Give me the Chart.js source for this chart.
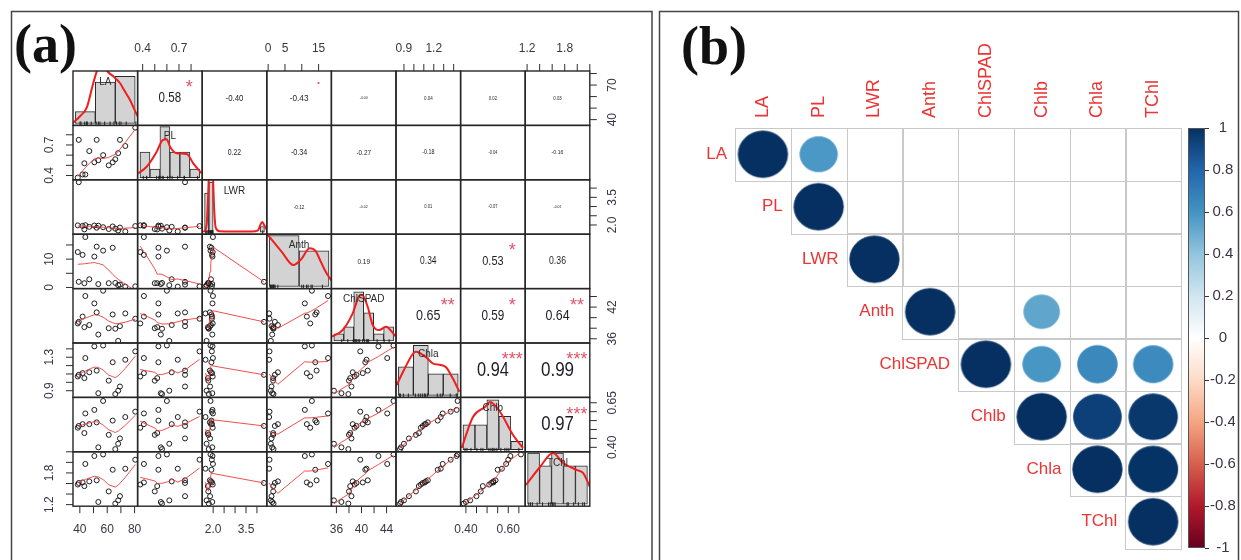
<!DOCTYPE html>
<html>
<head>
<meta charset="utf-8">
<script src="https://cdn.jsdelivr.net/npm/chart.js@4.4.1/dist/chart.umd.min.js"></script>
<style>
  html, body { margin: 0; padding: 0; background: #fff; }
  #wrap { position: relative; width: 1241px; height: 560px; overflow: hidden; background: #fff; }
  #ca { position: absolute; left: 0; top: 0; width: 656px; height: 560px; }
  #cb { position: absolute; left: 656px; top: 0; width: 585px; height: 560px; }
</style>
</head>
<body>
<div id="wrap">
  <canvas id="ca" width="656" height="560"></canvas>
  <canvas id="cb" width="585" height="560"></canvas>
</div>
<script>
// ---------------- measured traits (17 accessions) ----------------
const VARS = ['LA', 'PL', 'LWR', 'Anth', 'ChlSPAD', 'Chla', 'Chlb', 'TChl'];

const LA      = [38.5, 39.2, 42.0, 43.3, 44.0, 46.9, 50.6, 52.3, 53.5, 57.0, 61.1, 64.0, 65.9, 68.0, 69.3, 73.2, 80.5];
const PL      = [0.38, 0.75, 0.41, 0.52, 0.41, 0.64, 0.53, 0.75, 0.55, 0.60, 0.50, 0.53, 0.56, 0.62, 0.75, 0.69, 0.87];
const LWR     = [1.98, 4.32, 1.95, 1.76, 1.99, 1.90, 1.97, 1.85, 1.96, 1.88, 1.78, 1.92, 1.80, 1.70, 1.86, 1.65, 1.94];
const Anth    = [12.5, 2.0, 11.5, 1.5, 17.8, 2.9, 10.9, 14.4, 1.2, 13.0, 1.5, 14.0, 1.6, 0.8, 1.0, 0.3, 0.4];
const ChlSPAD = [38.9, 39.2, 40.2, 38.2, 44.1, 38.6, 42.7, 41.0, 36.8, 45.1, 38.0, 40.6, 37.9, 35.6, 38.4, 40.8, 39.8];
const Chla    = [1.07, 1.09, 1.11, 1.05, 1.29, 1.12, 1.43, 1.14, 0.87, 1.44, 1.02, 1.24, 0.86, 0.90, 0.95, 1.27, 1.37];
const Chlb    = [0.51, 0.52, 0.53, 0.48, 0.59, 0.53, 0.61, 0.54, 0.40, 0.66, 0.47, 0.55, 0.39, 0.42, 0.45, 0.57, 0.60];
const TChl    = [1.58, 1.61, 1.62, 1.55, 1.97, 1.64, 2.12, 1.66, 1.25, 2.15, 1.45, 1.86, 1.22, 1.28, 1.36, 1.88, 2.05];

// axis limits of each trait's panel
const AXIS_LO = [35.0, 0.358, 1.50, -0.4, 35.2, 0.82, 0.375, 1.17];
const AXIS_HI = [82.2, 0.892, 4.45, 18.8, 45.5, 1.47, 0.680, 2.20];

// axis ticks of each trait
const TICKS_LA      = [40, 50, 60, 70, 80];
const TICKS_PL      = [0.4, 0.5, 0.6, 0.7, 0.8];
const TICKS_LWR     = [2.0, 2.5, 3.0, 3.5, 4.0];
const TICKS_Anth    = [0, 5, 10, 15];
const TICKS_ChlSPAD = [36, 38, 40, 42, 44];
const TICKS_Chla    = [0.9, 1.0, 1.1, 1.2, 1.3, 1.4];
const TICKS_Chlb    = [0.40, 0.45, 0.50, 0.55, 0.60, 0.65];
const TICKS_TChl    = [1.2, 1.4, 1.6, 1.8, 2.0, 2.2];

// labelled ticks on each side of the matrix: [trait index, labels]
const AXIS_TOP    = [[1, ['0.4', '0.7']], [3, ['0', '5', '15']], [5, ['0.9', '1.2']], [7, ['1.2', '1.8']]];
const AXIS_BOTTOM = [[0, ['40', '60', '80']], [2, ['2.0', '3.5']], [4, ['36', '40', '44']], [6, ['0.40', '0.60']]];
const AXIS_LEFT   = [[1, ['0.4', '0.7']], [3, ['0', '10']], [5, ['0.9', '1.3']], [7, ['1.2', '1.8']]];
const AXIS_RIGHT  = [[0, ['40', '70']], [2, ['2.0', '3.5']], [4, ['36', '42']], [6, ['0.40', '0.65']]];

// histogram breaks and counts on the diagonal
const HIST_BREAKS = [
  [35, 50, 65, 80],
  [0.35, 0.44, 0.53, 0.62, 0.71, 0.80, 0.89],
  [1.6, 1.8, 2.0, 2.2, 2.4, 2.6, 2.8, 3.0, 3.2, 3.4, 3.6, 3.8, 4.0, 4.2, 4.4],
  [0, 10, 20],
  [34, 36, 38, 40, 42, 44, 46],
  [0.85, 1.0, 1.15, 1.3, 1.45],
  [0.38, 0.44, 0.50, 0.56, 0.62, 0.68],
  [1.2, 1.4, 1.6, 1.8, 2.0, 2.2]
];
const HIST_COUNTS = [
  [2, 7, 8],
  [3, 1, 6, 3, 3, 1],
  [7, 9, 0, 0, 0, 0, 0, 0, 0, 0, 0, 0, 0, 1],
  [10, 7],
  [1, 2, 7, 4, 1, 2],
  [4, 7, 3, 3],
  [3, 3, 6, 4, 1],
  [4, 3, 4, 3, 3]
];
// upper limit of each histogram's count axis
const HIST_TOP = [8.9, 6.15, 9.4, 10.26, 7.47, 7.32, 6.28, 4.1];

// kernel density curves (in histogram count units)
const DENS_X = [
  [33.2, 38.5, 43.7, 47.5, 51.2, 54.2, 56.5, 59.5, 64.0, 68.5, 72.3, 76.1, 80.6, 82.1],
  [0.335, 0.41, 0.501, 0.555, 0.591, 0.621, 0.681, 0.772, 0.831, 0.907],
  [1.49, 1.6, 1.7, 1.76, 1.82, 1.9, 1.98, 2.05, 2.12, 2.3, 3.0, 3.8, 4.1, 4.2, 4.3, 4.4, 4.51],
  [-0.83, 4.2, 8.1, 10.9, 13.5, 15.5, 17.0, 18.8, 20.3, 20.8],
  [33.64, 35.79, 37.79, 39.12, 39.66, 40.8, 41.8, 43.13, 44.47, 46.34],
  [0.833, 0.916, 0.999, 1.027, 1.127, 1.194, 1.277, 1.328, 1.395, 1.461],
  [0.3735, 0.430, 0.490, 0.516, 0.566, 0.631, 0.681],
  [1.173, 1.407, 1.625, 1.792, 2.026, 2.126, 2.243]
];
const DENS_Y = [
  [0.05, 1.2, 2.77, 6.0, 8.9, 9.8, 9.7, 8.73, 7.9, 6.86, 5.4, 3.97, 1.75, 1.1],
  [0.52, 1.29, 3.06, 4.43, 4.52, 3.65, 2.87, 2.79, 1.69, 0.52],
  [0.1, 0.2, 1.5, 6, 12, 14, 11, 4, 0.8, 0.15, 0.1, 0.1, 0.3, 1.2, 1.8, 1.2, 0.4],
  [10.4, 6.8, 4.2, 5.5, 7.5, 7.0, 5.2, 3.0, 1.6, 1.2],
  [0.6, 1.56, 3.94, 6.41, 6.55, 4.88, 2.27, 1.56, 2.03, 0.7],
  [1.44, 3.82, 5.88, 6.1, 5.32, 4.48, 4.24, 3.92, 2.38, 0.5],
  [0.21, 3.93, 5.13, 5.73, 4.53, 1.77, 0.21],
  [1.50, 2.91, 4.01, 3.22, 2.67, 2.44, 1.34]
];

// Pearson correlations (rows/columns in VARS order)
const R_LA      = [1.00, 0.58, -0.40, -0.43, -0.004, 0.04, 0.02, 0.03];
const R_PL      = [0.58, 1.00, 0.22, -0.34, -0.27, -0.18, -0.04, -0.16];
const R_LWR     = [-0.40, 0.22, 1.00, -0.12, -0.02, 0.01, -0.07, -0.01];
const R_Anth    = [-0.43, -0.34, -0.12, 1.00, 0.19, 0.34, 0.53, 0.36];
const R_ChlSPAD = [-0.004, -0.27, -0.02, 0.19, 1.00, 0.65, 0.59, 0.64];
const R_Chla    = [0.04, -0.18, 0.01, 0.34, 0.65, 1.00, 0.94, 0.99];
const R_Chlb    = [0.02, -0.04, -0.07, 0.53, 0.59, 0.94, 1.00, 0.97];
const R_TChl    = [0.03, -0.16, -0.01, 0.36, 0.64, 0.99, 0.97, 1.00];

// significance codes
const S_LA      = ['', '*', '', '.', '', '', '', ''];
const S_PL      = ['*', '', '', '', '', '', '', ''];
const S_LWR     = ['', '', '', '', '', '', '', ''];
const S_Anth    = ['', '', '', '', '', '', '*', ''];
const S_ChlSPAD = ['', '', '', '', '', '**', '*', '**'];
const S_Chla    = ['', '', '', '', '**', '', '***', '***'];
const S_Chlb    = ['', '', '', '*', '*', '***', '', '***'];
const S_TChl    = ['', '', '', '', '**', '***', '***', ''];

// variable order of the correlogram
const ORDER_B = [0, 1, 2, 3, 4, 6, 5, 7];

// diverging palette of the correlogram
const RAMP = ['#67001F', '#B2182B', '#D6604D', '#F4A582', '#FDDBC7', '#FFFFFF',
              '#D1E5F0', '#92C5DE', '#4393C3', '#2166AC', '#053061'];

// ---------------------------------------------------------------
const SAMPLES = [LA, PL, LWR, Anth, ChlSPAD, Chla, Chlb, TChl];
const TICKS = [TICKS_LA, TICKS_PL, TICKS_LWR, TICKS_Anth, TICKS_ChlSPAD, TICKS_Chla, TICKS_Chlb, TICKS_TChl];
const CORR = [R_LA, R_PL, R_LWR, R_Anth, R_ChlSPAD, R_Chla, R_Chlb, R_TChl];
const SIG = [S_LA, S_PL, S_LWR, S_Anth, S_ChlSPAD, S_Chla, S_Chlb, S_TChl];
const N = VARS.length;
const SANS = '"Liberation Sans", Arial, Helvetica, sans-serif';
const SERIF = '"Liberation Serif", "Times New Roman", serif';

function hexToRgb(h) {
  const v = parseInt(h.slice(1), 16);
  return [(v >> 16) & 255, (v >> 8) & 255, v & 255];
}
function rampColor(v) {
  const t = Math.max(0, Math.min(10, (v + 1) / 2 * 10));
  const i = Math.min(9, Math.floor(t)), f = t - i;
  const a = hexToRgb(RAMP[i]), b = hexToRgb(RAMP[i + 1]);
  const c = a.map((x, k) => Math.round(x + (b[k] - x) * f));
  return `rgb(${c[0]},${c[1]},${c[2]})`;
}

// locally weighted scatterplot smoother (Cleveland's lowess)
function lowess(xIn, yIn, f, iter) {
  const n = xIn.length;
  const order = xIn.map((_, i) => i).sort((a, b) => xIn[a] - xIn[b]);
  const x = order.map(i => xIn[i]), y = order.map(i => yIn[i]);
  const ns = Math.max(2, Math.min(n, Math.floor(f * n + 1e-7)));
  const fit = new Array(n).fill(0), rw = new Array(n).fill(1), res = new Array(n).fill(0);
  const range = x[n - 1] - x[0];
  for (let it = 0; it <= iter; it++) {
    let nleft = 0, nright = ns - 1;
    for (let i = 0; i < n; i++) {
      while (nright < n - 1) {
        const d1 = x[i] - x[nleft], d2 = x[nright + 1] - x[i];
        if (d1 <= d2) break;
        nleft++; nright++;
      }
      const h = Math.max(x[i] - x[nleft], x[nright] - x[i]);
      const w = new Array(n).fill(0);
      let sw = 0;
      for (let j = 0; j < n; j++) {
        const r = Math.abs(x[j] - x[i]);
        if (r <= 0.999 * h) {
          let wj = (r <= 0.001 * h) ? 1 : Math.pow(1 - Math.pow(r / h, 3), 3);
          wj *= rw[j];
          w[j] = wj; sw += wj;
        }
      }
      if (sw <= 0) { fit[i] = y[i]; continue; }
      let a = 0;
      for (let j = 0; j < n; j++) { w[j] /= sw; a += w[j] * x[j]; }
      let b = x[i] - a, c = 0;
      for (let j = 0; j < n; j++) c += w[j] * (x[j] - a) * (x[j] - a);
      if (Math.sqrt(c) > 0.001 * range) {
        b /= c;
        for (let j = 0; j < n; j++) w[j] *= (b * (x[j] - a) + 1);
      }
      let s = 0;
      for (let j = 0; j < n; j++) s += w[j] * y[j];
      fit[i] = s;
    }
    if (it === iter) break;
    for (let i = 0; i < n; i++) res[i] = y[i] - fit[i];
    const sorted = res.map(Math.abs).sort((p, q) => p - q);
    const m = n % 2 ? sorted[(n - 1) / 2] : (sorted[n / 2 - 1] + sorted[n / 2]) / 2;
    const cmad = 6 * m;
    if (cmad < 1e-9) break;
    for (let i = 0; i < n; i++) {
      const r = Math.abs(res[i]);
      rw[i] = r <= 0.001 * cmad ? 1 : (r > 0.999 * cmad ? 0 : Math.pow(1 - (r / cmad) * (r / cmad), 2));
    }
  }
  return x.map((xv, i) => ({ x: xv, y: fit[i] }));
}

// ---------------- panel (a): scatterplot matrix ----------------
// every trait gets an x scale for its column and a y scale for its row;
// the scale range is widened so that the trait's own range fills one cell
function cellScale(axis, lo, hi, k, isRow) {
  const span = hi - lo;
  const min = isRow ? lo - (N - 1 - k) * span : lo - k * span;
  const max = isRow ? hi + k * span : hi + (N - 1 - k) * span;
  return { type: 'linear', axis, display: false, bounds: 'data', offset: false, min, max,
           grid: { offset: false }, ticks: { includeBounds: false, maxTicksLimit: 3 } };
}

const scalesA = {};
for (let k = 0; k < N; k++) {
  scalesA['x' + k] = cellScale('x', AXIS_LO[k], AXIS_HI[k], k, false);
  scalesA['y' + k] = cellScale('y', AXIS_LO[k], AXIS_HI[k], k, true);
  const br = HIST_BREAKS[k], b0 = br[0], bN = br[br.length - 1], ext = 0.04 * (bN - b0);
  scalesA['hx' + k] = cellScale('x', b0 - ext, bN + ext, k, false);
  scalesA['hy' + k] = cellScale('y', -0.04 * HIST_TOP[k], HIST_TOP[k], k, true);
}

const datasetsA = [];
for (let i = 0; i < N; i++) {
  for (let j = 0; j < N; j++) {
    if (i > j) {
      datasetsA.push({
        type: 'scatter', cell: [i, j], xAxisID: 'x' + j, yAxisID: 'y' + i,
        data: SAMPLES[j].map((v, s) => ({ x: v, y: SAMPLES[i][s] })),
        pointStyle: 'circle', pointRadius: 2.5, pointBorderWidth: 1,
        pointBackgroundColor: 'rgba(0,0,0,0)', pointBorderColor: '#1c1c1c',
        borderColor: '#1c1c1c', backgroundColor: 'rgba(0,0,0,0)',
        showLine: false, order: 2, clip: false
      });
      datasetsA.push({
        type: 'line', cell: [i, j], xAxisID: 'x' + j, yAxisID: 'y' + i,
        data: lowess(SAMPLES[j], SAMPLES[i], 2 / 3, 3),
        borderColor: 'rgba(236,60,60,0.9)', borderWidth: 1, pointRadius: 0,
        tension: 0, fill: false, order: 1, clip: false
      });
    } else if (i === j) {
      const br = HIST_BREAKS[i], T = HIST_TOP[i];
      datasetsA.push({
        type: 'bar', cell: [i, i], xAxisID: 'hx' + i, yAxisID: 'hy' + i,
        data: HIST_COUNTS[i].map((c, b) => ({ x: (br[b] + br[b + 1]) / 2, y: c })),
        backgroundColor: '#d3d3d3', borderColor: '#2a2a2a', borderWidth: 1,
        borderSkipped: false, categoryPercentage: 1, barPercentage: 1, grouped: false,
        order: 4, clip: false
      });
      datasetsA.push({
        type: 'scatter', cell: [i, i], xAxisID: 'hx' + i, yAxisID: 'hy' + i,
        data: SAMPLES[i].map(v => ({ x: v, y: -0.04 * T + 0.035 * 1.04 * T })),
        pointStyle: 'line', rotation: 90, pointRadius: 2, pointBorderWidth: 1,
        pointBorderColor: '#222', borderColor: '#222', showLine: false, order: 3, clip: false
      });
      datasetsA.push({
        type: 'line', cell: [i, i], xAxisID: 'hx' + i, yAxisID: 'hy' + i,
        data: DENS_X[i].map((x, p) => ({ x, y: DENS_Y[i][p] })),
        borderColor: '#f01e1e', borderWidth: 2, pointRadius: 0,
        cubicInterpolationMode: 'monotone', fill: false, order: 1, clip: false
      });
    }
  }
}

function cellRect(chart, r, c) {
  const xs = chart.scales['x' + c], ys = chart.scales['y' + r];
  return {
    l: xs.getPixelForValue(AXIS_LO[c]), r: xs.getPixelForValue(AXIS_HI[c]),
    t: ys.getPixelForValue(AXIS_HI[r]), b: ys.getPixelForValue(AXIS_LO[r])
  };
}

const measureCtx = document.createElement('canvas').getContext('2d');
function emWidth(txt) {
  measureCtx.font = '100px ' + SANS;
  return measureCtx.measureText(txt).width / 100;
}

const pairsDecor = {
  id: 'pairsDecor',
  beforeDatasetDraw(chart, args) {
    const ds = chart.data.datasets[args.index];
    if (!ds.cell) return;
    const R = cellRect(chart, ds.cell[0], ds.cell[1]);
    const ctx = chart.ctx;
    ctx.save();
    ctx.beginPath();
    ctx.rect(R.l, R.t, R.r - R.l, R.b - R.t);
    ctx.clip();
  },
  afterDatasetDraw(chart, args) {
    const ds = chart.data.datasets[args.index];
    if (!ds.cell) return;
    chart.ctx.restore();
  },
  afterDatasetsDraw(chart) {
    const ctx = chart.ctx;
    ctx.save();

    // correlation coefficients and significance stars
    for (let i = 0; i < N; i++) {
      for (let j = i + 1; j < N; j++) {
        const R = cellRect(chart, i, j);
        const r = CORR[i][j];
        const txt = r.toFixed(2);
        const size = 20.5 * (Math.abs(r) + 0.3) / 1.29 * (1.946 / emWidth(txt));
        ctx.save();
        ctx.translate((R.l + R.r) / 2, (R.t + R.b) / 2);
        ctx.scale(0.83, 1);
        ctx.font = size.toFixed(2) + 'px ' + SANS;
        ctx.fillStyle = '#1e1e28';
        ctx.textAlign = 'center';
        ctx.textBaseline = 'middle';
        ctx.fillText(txt, 0, 0);
        ctx.restore();
        const sig = SIG[i][j];
        if (sig) {
          const sx = R.l + 0.8 * (R.r - R.l), sy = R.t + 0.2 * (R.b - R.t) + 1;
          ctx.font = '18px ' + SANS;
          ctx.fillStyle = '#df536b';
          ctx.textAlign = 'center';
          ctx.textBaseline = 'alphabetic';
          ctx.fillText(sig, sx, sig === '.' ? sy + 1 : sy + 0.57 * 18);
        }
      }
    }

    // trait names on the diagonal
    ctx.font = '10px ' + SANS;
    ctx.fillStyle = '#2a2a2a';
    ctx.textAlign = 'center';
    ctx.textBaseline = 'middle';
    for (let k = 0; k < N; k++) {
      const R = cellRect(chart, k, k);
      ctx.fillText(VARS[k], (R.l + R.r) / 2, R.t + 11);
    }

    // panel boxes
    ctx.strokeStyle = '#262626';
    ctx.lineWidth = 1.4;
    for (let i = 0; i < N; i++) {
      for (let j = 0; j < N; j++) {
        const R = cellRect(chart, i, j);
        ctx.strokeRect(R.l, R.t, R.r - R.l, R.b - R.t);
      }
    }

    // outer axes
    const G = { l: cellRect(chart, 0, 0).l, t: cellRect(chart, 0, 0).t,
                r: cellRect(chart, N - 1, N - 1).r, b: cellRect(chart, N - 1, N - 1).b };
    ctx.strokeStyle = '#2e2e2e';
    ctx.lineWidth = 1;
    ctx.fillStyle = '#3b3446';
    ctx.font = '12px ' + SANS;
    ctx.textAlign = 'center';
    ctx.textBaseline = 'middle';
    const TL = 7, OFF = 22;
    AXIS_TOP.forEach(([k, labels]) => {
      const xs = chart.scales['x' + k];
      TICKS[k].forEach(t => { const p = xs.getPixelForValue(t); ctx.beginPath(); ctx.moveTo(p, G.t); ctx.lineTo(p, G.t - TL); ctx.stroke(); });
      labels.forEach(s => ctx.fillText(s, xs.getPixelForValue(parseFloat(s)), G.t - OFF));
    });
    AXIS_BOTTOM.forEach(([k, labels]) => {
      const xs = chart.scales['x' + k];
      TICKS[k].forEach(t => { const p = xs.getPixelForValue(t); ctx.beginPath(); ctx.moveTo(p, G.b); ctx.lineTo(p, G.b + TL); ctx.stroke(); });
      labels.forEach(s => ctx.fillText(s, xs.getPixelForValue(parseFloat(s)), G.b + OFF + 1));
    });
    const vertLabels = (list, x0, dir) => {
      list.forEach(([k, labels]) => {
        const ys = chart.scales['y' + k];
        TICKS[k].forEach(t => { const p = ys.getPixelForValue(t); ctx.beginPath(); ctx.moveTo(x0, p); ctx.lineTo(x0 + dir * TL, p); ctx.stroke(); });
        labels.forEach(s => {
          ctx.save();
          ctx.translate(x0 + dir * (OFF + 1), ys.getPixelForValue(parseFloat(s)));
          ctx.rotate(-Math.PI / 2);
          ctx.fillText(s, 0, 0);
          ctx.restore();
        });
      });
    };
    vertLabels(AXIS_LEFT, G.l, -1);
    vertLabels(AXIS_RIGHT, G.r, 1);

    // figure frame and tag
    ctx.strokeStyle = '#444';
    ctx.lineWidth = 1.5;
    ctx.strokeRect(11.5, 11.5, 640.5, 620);
    ctx.font = 'bold 54px ' + SERIF;
    ctx.fillStyle = '#111';
    ctx.textAlign = 'left';
    ctx.textBaseline = 'alphabetic';
    ctx.fillText('(a)', 14, 62);
    ctx.restore();
  }
};

new Chart(document.getElementById('ca'), {
  type: 'scatter',
  data: { datasets: datasetsA },
  options: {
    responsive: false, animation: false, devicePixelRatio: 1, events: [],
    layout: { padding: { left: 73, top: 71, right: 66.2, bottom: 53.8 } },
    plugins: { legend: { display: false }, tooltip: { enabled: false } },
    scales: scalesA
  },
  plugins: [pairsDecor]
});

// ---------------- panel (b): correlogram ----------------
const circles = [];
for (let bi = 0; bi < N; bi++) {
  for (let bj = bi; bj < N; bj++) {
    const a = ORDER_B[bi], b = ORDER_B[bj];
    const show = bi === bj || SIG[a][b].indexOf('*') >= 0;
    if (show) circles.push({ x: bj, y: bi, v: bi === bj ? 1 : CORR[a][b] });
  }
}

const ellipseCache = {};
function cellSize(chart) {
  const xs = chart.scales.x, ys = chart.scales.y;
  return { w: Math.abs(xs.getPixelForValue(1) - xs.getPixelForValue(0)),
           h: Math.abs(ys.getPixelForValue(1) - ys.getPixelForValue(0)) };
}
function ellipseStyle(c) {
  if (!c.raw) return 'circle';
  const cs = cellSize(c.chart);
  const s = Math.sqrt(Math.abs(c.raw.v));
  const rx = 0.45 * cs.w * s, ry = 0.45 * cs.h * s;
  const key = c.raw.v + '|' + rx.toFixed(2) + '|' + ry.toFixed(2);
  if (!ellipseCache[key]) {
    const cv = document.createElement('canvas');
    cv.width = Math.ceil(2 * rx) + 2;
    cv.height = Math.ceil(2 * ry) + 2;
    const g = cv.getContext('2d');
    g.fillStyle = rampColor(c.raw.v);
    g.strokeStyle = rampColor(c.raw.v);
    g.lineWidth = 0.8;
    g.beginPath();
    g.ellipse(cv.width / 2, cv.height / 2, rx - 0.4, ry - 0.4, 0, 0, 2 * Math.PI);
    g.fill();
    g.stroke();
    ellipseCache[key] = cv;
  }
  return ellipseCache[key];
}

const corrDecor = {
  id: 'corrDecor',
  beforeDatasetsDraw(chart) {
    const ctx = chart.ctx, xs = chart.scales.x, ys = chart.scales.y;
    ctx.save();
    ctx.strokeStyle = '#c9c9c9';
    ctx.lineWidth = 1;
    for (let bi = 0; bi < N; bi++) {
      for (let bj = bi; bj < N; bj++) {
        const l = xs.getPixelForValue(bj - 0.5), r = xs.getPixelForValue(bj + 0.5);
        const t = ys.getPixelForValue(bi - 0.5), b = ys.getPixelForValue(bi + 0.5);
        ctx.strokeRect(Math.round(l) + 0.5, Math.round(t) + 0.5, Math.round(r - l), Math.round(b - t));
      }
    }
    // colour legend
    const cb = chart.scales.cb;
    const top = cb.getPixelForValue(1), bot = cb.getPixelForValue(-1);
    const right = chart.chartArea.right, left = right - 17;
    const grad = ctx.createLinearGradient(0, bot, 0, top);
    RAMP.forEach((c, k) => grad.addColorStop(k / (RAMP.length - 1), c));
    ctx.fillStyle = grad;
    ctx.fillRect(left, top, right - left, bot - top);
    ctx.strokeStyle = '#555';
    ctx.strokeRect(left + 0.5, top + 0.5, right - left - 1, bot - top - 1);
    ctx.restore();
  },
  afterDraw(chart) {
    const ctx = chart.ctx, xs = chart.scales.x, ys = chart.scales.y;
    ctx.save();
    ctx.fillStyle = '#ec3434';
    ctx.font = '17px ' + SANS;
    // row names
    ctx.textAlign = 'right';
    ctx.textBaseline = 'middle';
    for (let bi = 0; bi < N; bi++) {
      ctx.fillText(VARS[ORDER_B[bi]], xs.getPixelForValue(bi - 0.5) - 8, ys.getPixelForValue(bi));
    }
    // column names
    ctx.font = '18px ' + SANS;
    ctx.textAlign = 'left';
    const gridTop = ys.getPixelForValue(-0.5);
    for (let bj = 0; bj < N; bj++) {
      ctx.save();
      ctx.translate(xs.getPixelForValue(bj), gridTop - 10);
      ctx.rotate(-Math.PI / 2);
      ctx.fillText(VARS[ORDER_B[bj]], 0, 0);
      ctx.restore();
    }
    // frame and tag
    ctx.strokeStyle = '#444';
    ctx.lineWidth = 1.5;
    ctx.strokeRect(3.5, 11.5, 579, 620);
    ctx.font = 'bold 54px ' + SERIF;
    ctx.fillStyle = '#111';
    ctx.textAlign = 'left';
    ctx.textBaseline = 'alphabetic';
    ctx.fillText('(b)', 25, 64);
    ctx.restore();
  }
};

new Chart(document.getElementById('cb'), {
  type: 'scatter',
  data: {
    datasets: [{
      data: circles,
      pointStyle: ellipseStyle,
      pointRadius: c => c.raw ? 0.45 * cellSize(c.chart).w * Math.sqrt(Math.abs(c.raw.v)) : 3,
      pointBackgroundColor: c => c.raw ? rampColor(c.raw.v) : '#000',
      pointBorderColor: c => c.raw ? rampColor(c.raw.v) : '#000',
      showLine: false
    }]
  },
  options: {
    responsive: false, animation: false, devicePixelRatio: 1, events: [],
    layout: { padding: { left: 79, top: 128, right: 6, bottom: 12 } },
    plugins: { legend: { display: false }, tooltip: { enabled: false } },
    scales: {
      x: { type: 'linear', display: false, bounds: 'data', min: -0.5, max: 7.93 },
      y: { type: 'linear', display: false, bounds: 'data', min: -0.5, max: 7.5, reverse: true },
      cb: {
        type: 'linear', axis: 'y', position: 'right', min: -1, max: 1, bounds: 'data',
        afterFit: s => { s.width = 30; },
        border: { display: false },
        grid: { drawOnChartArea: false, drawTicks: true, tickLength: 4, color: '#333' },
        ticks: {
          stepSize: 0.2, padding: 1, crossAlign: 'center', color: '#3a3344',
          font: { family: SANS, size: 15 },
          callback: v => String(Math.round(v * 10) / 10)
        }
      }
    }
  },
  plugins: [corrDecor]
});
</script>
</body>
</html>
